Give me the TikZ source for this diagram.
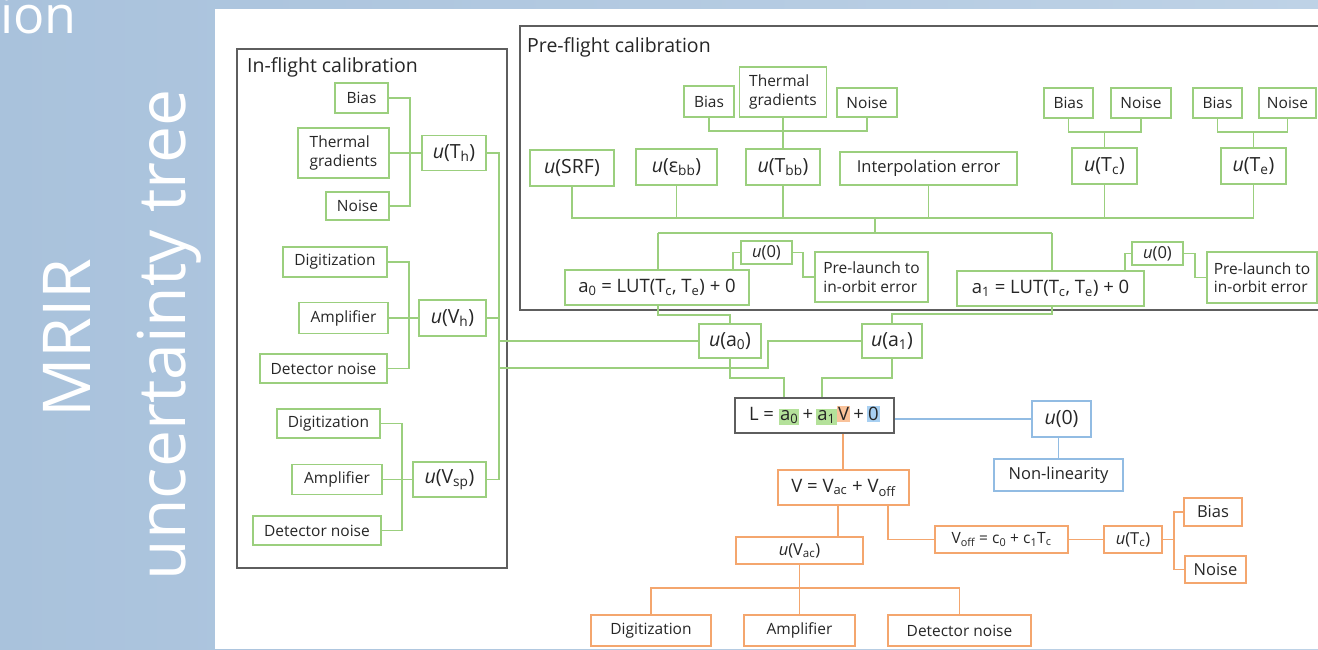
\documentclass[tikz,border=0pt]{standalone}
\usepackage{fontspec}
\setmainfont{Open Sans}
\pgfdeclarelayer{bg}
\pgfsetlayers{bg,main}
\definecolor{gline}{HTML}{9BCF7E}
\definecolor{oline}{HTML}{F4A66E}
\definecolor{bline}{HTML}{92BCE3}
\definecolor{frame}{HTML}{5E5E5E}
\definecolor{txt}{HTML}{262626}
\definecolor{side1}{HTML}{A9C2DC}
\definecolor{side2}{HTML}{BED2E6}
\definecolor{hlg}{HTML}{B4E19A}
\definecolor{hlo}{HTML}{F9C29A}
\definecolor{hlb}{HTML}{A8D0F2}
\newcommand\fsmall{\fontsize{15.5}{18.5}\selectfont}
\newcommand\fmid{\fontsize{16.5}{19}\selectfont}
\newcommand\fbig{\fontsize{19.5}{23}\selectfont}
\newcommand\feq{\fontsize{18.5}{22}\selectfont}
\newcommand\ftitle{\fontsize{19.5}{23}\selectfont}
\newcommand\uu{\textit{u}}
\newcommand\sub[1]{\textsubscript{#1}}
\newcommand\hl[2]{{\setlength\fboxsep{1.2pt}\colorbox{#1}{#2}}}
\tikzset{
  box/.style={draw, fill=white, line width=1.2pt, inner sep=0pt, text=txt, font=\fsmall},
  gbox/.style={box, draw=gline},
  obox/.style={box, draw=oline},
  bbox/.style={box, draw=bline},
  ulab/.style={font=\fbig},
  wh/.style 2 args={minimum width=#1pt, minimum height=#2pt},
  gl/.style={draw=gline, line width=1.2pt},
  ol/.style={draw=oline, line width=1.2pt},
  bl/.style={draw=bline, line width=1.2pt},
  fr/.style={draw=frame, line width=1.4pt},
  side/.style={text=white, inner sep=0pt, font=\fontsize{66}{70}\selectfont},
}
\begin{document}
\begin{tikzpicture}[x=1pt,y=-1pt]
\useasboundingbox (0,0) rectangle (1318,649);
% ---------------- In-flight nodes
\node[side, rotate=90, anchor=base] (mrir) at (90,338) {MRIR};
\node[side, rotate=90, anchor=base] (unc) at (185,335) {uncertainty tree};
\node[text=white, inner sep=0pt, anchor=base east, font=\fontsize{52}{56}\selectfont] (ion) at (77,33) {ion};
\node[inner sep=0pt, anchor=west, font=\ftitle, text=txt] (tIF) at (247,67) {In-flight calibration};
\node[inner sep=0pt, anchor=west, font=\ftitle, text=txt] (tPF) at (527,47) {Pre-flight calibration};

\node[gbox,wh={53}{30}] (ib1) at (361.5,98) {Bias};
\node[gbox,wh={91}{50},align=left] (it1) at (343.5,153) {Thermal\\gradients};
\node[gbox,wh={63}{28}] (in1) at (357.5,206) {Noise};
\node[gbox,ulab,wh={64}{35}] (uTh) at (454,153) {\uu(T\sub{h})};
\node[gbox,wh={104}{30}] (id1) at (335,262) {Digitization};
\node[gbox,wh={89}{31}] (ia1) at (343.5,318) {Amplifier};
\node[gbox,wh={127}{29}] (idn1) at (323.5,368.5) {Detector noise};
\node[gbox,ulab,wh={67}{36}] (uVh) at (452.5,318) {\uu(V\sub{h})};
\node[gbox,wh={103}{29}] (id2) at (328.5,423.5) {Digitization};
\node[gbox,wh={90}{30}] (ia2) at (337,479.5) {Amplifier};
\node[gbox,wh={128}{29}] (idn2) at (317,530.5) {Detector noise};
\node[gbox,ulab,wh={73}{35}] (uVsp) at (449.5,479.5) {\uu(V\sub{sp})};

% ---------------- Pre-flight nodes
\node[gbox,wh={50}{31}] (pb) at (709,101.5) {Bias};
\node[gbox,wh={87}{50},align=left] (pt) at (783,92) {Thermal\\gradients};
\node[gbox,wh={60}{29}] (pn) at (867,102.5) {Noise};
\node[gbox,ulab,wh={84}{36}] (uSRF) at (572,168) {\uu(SRF)};
\node[gbox,ulab,wh={81}{36}] (uEbb) at (676.5,167) {\uu(ε\sub{bb})};
\node[gbox,ulab,wh={74}{36}] (uTbb) at (783,167) {\uu(T\sub{bb})};
\node[gbox,font=\fmid,wh={177}{33}] (interp) at (928.5,168.5) {Interpolation error};
\node[gbox,wh={49}{30}] (cb) at (1068.5,103) {Bias};
\node[gbox,wh={60}{30}] (cn) at (1141,103) {Noise};
\node[gbox,ulab,wh={65}{36}] (uTc) at (1104.5,166) {\uu(T\sub{c})};
\node[gbox,wh={49}{30}] (eb) at (1217.5,103) {Bias};
\node[gbox,wh={57}{30}] (en) at (1287.5,103) {Noise};
\node[gbox,ulab,wh={65}{36}] (uTe) at (1253.5,166) {\uu(T\sub{e})};

\node[gbox,font=\feq,wh={184}{35}] (a0) at (657,287.5) {a\sub{0} = LUT(T\sub{c}, T\sub{e}) + 0};
\node[gbox,font=\fmid,wh={51}{23}] (u0a) at (766.5,252.5) {\uu(0)};
\node[gbox,wh={113}{50},align=left] (preA) at (871.5,277) {Pre-launch to\\in-orbit error};
\node[gbox,font=\feq,wh={187}{35}] (a1) at (1050.5,288.5) {a\sub{1} = LUT(T\sub{c}, T\sub{e}) + 0};
\node[gbox,font=\fmid,wh={51}{23}] (u0b) at (1157.5,253.5) {\uu(0)};
\node[gbox,wh={110}{51},align=left] (preB) at (1262,277.5) {Pre-launch to\\in-orbit error};

\node[gbox,ulab,wh={62}{34}] (uA0) at (730,341) {\uu(a\sub{0})};
\node[gbox,ulab,wh={60}{34}] (uA1) at (892,341) {\uu(a\sub{1})};

% ---------------- L and below
\node[box,draw=frame,line width=1.5pt,font=\feq,wh={159}{35}] (L) at (814.5,415.5)
  {L = \hl{hlg}{a\sub{0}}\,+\,\hl{hlg}{a\sub{1}}\hl{hlo}{V}\,+\,\hl{hlb}{0}};
\node[bbox,ulab,wh={59}{36}] (u0c) at (1061.5,419) {\uu(0)};
\node[bbox,font=\fmid,wh={129}{32}] (nl) at (1058.5,475) {Non-linearity};

\node[obox,font=\feq,wh={131}{35}] (V) at (843.5,487.5) {V = V\sub{ac} + V\sub{off}};
\node[obox,font=\fmid,wh={127}{27}] (uVac) at (799.5,550.5) {\uu(V\sub{ac})};
\node[obox,wh={133}{27}] (Voff) at (1001.5,539.5) {V\sub{off} = c\sub{0} + c\sub{1}T\sub{c}};
\node[obox,font=\fmid,wh={58}{27}] (uTcO) at (1133,539.5) {\uu(T\sub{c})};
\node[obox,font=\fmid,wh={58}{28}] (oBias) at (1213,512) {Bias};
\node[obox,font=\fmid,wh={61}{27}] (oNoise) at (1215.5,569.5) {Noise};
\node[obox,wh={120}{31}] (Dig) at (651,630.5) {Digitization};
\node[obox,wh={111}{31}] (Amp) at (799.5,630.5) {Amplifier};
\node[obox,wh={143}{31}] (Det) at (959.5,630.5) {Detector noise};

\begin{pgfonlayer}{bg}
  \shade[left color=side1, right color=side2] (0,0) rectangle (1318,649);
  \fill[white] (215,9) rectangle (1318,649);
  \draw[fr] (237,49) rectangle (507,568);
  \draw[fr] (520,26) rectangle (1330,310);
  % in-flight
  \draw[gl] (ib1.east) -| (410,206) -- (in1.east);
  \draw[gl] (it1.east) -- (uTh.west);
  \draw[gl] (id1.east) -| (409,368.5) -- (idn1.east);
  \draw[gl] (ia1.east) -- (uVh.west);
  \draw[gl] (id2.east) -| (402,530.5) -- (idn2.east);
  \draw[gl] (ia2.east) -- (uVsp.west);
  \draw[gl] (uTh.east) -| (499,479.5) -- (uVsp.east);
  \draw[gl] (uVh.east) -- (499,318);
  \draw[gl] (499,341) -- (uA0.west);
  \draw[gl] (499,368) -| (768,341) -- (uA1.west);
  % pre-flight
  \draw[gl] (pb.south) |- (783,131) -| (pn.south);
  \draw[gl] (pt.south) -- (uTbb.north);
  \draw[gl] (cb.south) |- (1104.5,132) -| (cn.south);
  \draw[gl] (1104.5,132) -- (uTc.north);
  \draw[gl] (eb.south) |- (1253.5,132) -| (en.south);
  \draw[gl] (1253.5,132) -- (uTe.north);
  \draw[gl] (uSRF.south) -- (572,218) -- (1253.5,218) -- (uTe.south);
  \foreach \n in {uEbb,uTbb,interp,uTc} \draw[gl] (\n.south) -- (\n.south |- 0,218);
  \draw[gl] (875,218) -- (875,233);
  \draw[gl] (658,233) -- (1052,233);
  \draw[gl] (658,233) -- (658,315) -| (uA0.north);
  \draw[gl] (1052,233) -- (1052,314) -| (uA1.north);
  \draw[gl] ([xshift=76pt]a0.north) |- (u0a.west);
  \draw[gl] (u0a.east) -- (803,252.5) |- (preA.west);
  \draw[gl] ([xshift=74.5pt]a1.north) |- (u0b.west);
  \draw[gl] (u0b.east) -- (1195,253.5) |- (preB.west);
  % to L
  \draw[gl] (uA0.south) -- (730,378) -| ([xshift=-30.5pt]L.north);
  \draw[gl] (uA1.south) -- (892,378) -| ([xshift=7.5pt]L.north);
  % blue
  \draw[bl] (L.east |- u0c.west) -- (u0c.west);
  \draw[bl] (u0c.south -| nl.north) -- (nl.north);
  % orange
  \draw[ol] (L.south -| 843,0) -- (V.north -| 843,0);
  \draw[ol] (V.south -| 838,0) -- (uVac.north -| 838,0);
  \draw[ol] (V.south -| 888,0) |- (Voff.west);
  \draw[ol] (Voff.east) -- (uTcO.west);
  \draw[ol] (uTcO.east) -- (1174,539.5);
  \draw[ol] (oBias.west) -| (1174,569.5) -- (oNoise.west);
  \draw[ol] (uVac.south) -- (Amp.north);
  \draw[ol] (Dig.north) -- (651,588) -- (959.5,588) -- (Det.north);
\end{pgfonlayer}
\end{tikzpicture}
\end{document}
